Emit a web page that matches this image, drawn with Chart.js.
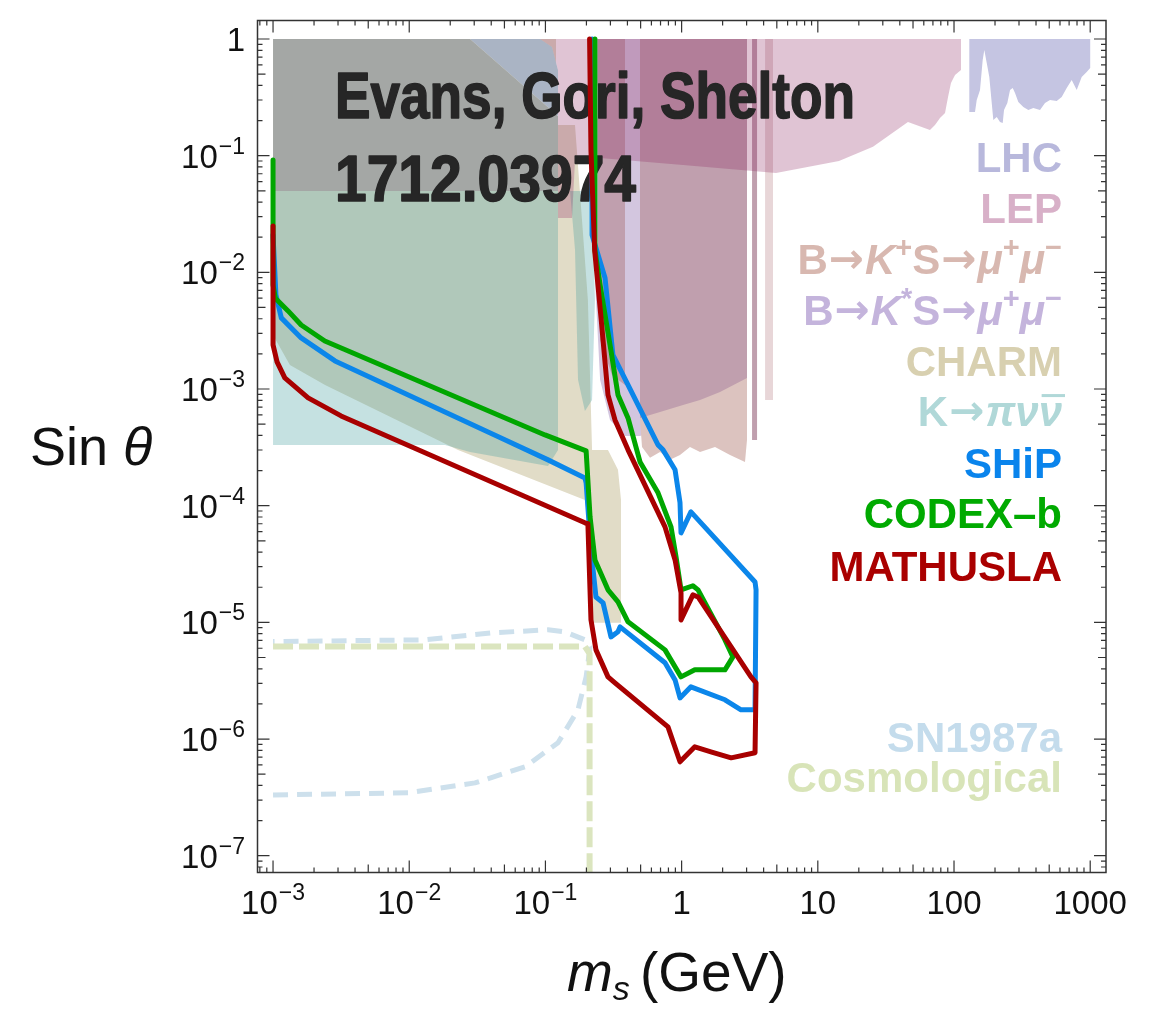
<!DOCTYPE html>
<html>
<head>
<meta charset="utf-8">
<script src="https://cdn.jsdelivr.net/npm/chart.js@4.4.1/dist/chart.umd.min.js"></script>
<style>
  body { margin: 0; background: #fff; }
  canvas { display: block; }
</style>
</head>
<body>
<canvas id="limits" width="1162" height="1015"></canvas>
<script>
// ---- projected reach (x = m_s in GeV, y = sin theta) ----
const mathuslaX = [0.001, 0.001, 0.00107, 0.00122, 0.00181, 0.00316, 0.195, 0.205, 0.216, 0.235, 0.288, 0.324, 0.794, 0.973, 1.25, 1.64, 2.31, 3.46, 3.52, 3.23, 1.32, 1.21, 0.99, 0.99, 0.895, 0.755, 0.404, 0.324, 0.288, 0.256, 0.230, 0.216, 0.211];
const mathuslaY = [0.025, 2.39e-3, 1.71e-3, 1.245e-3, 8.39e-4, 5.88e-4, 7.13e-5, 7.0e-5, 1.05e-5, 5.81e-6, 3.41e-6, 3.03e-6, 1.27e-6, 6.38e-7, 8.57e-7, 7.77e-7, 6.9e-7, 7.62e-7, 3.03e-6, 3.41e-6, 1.65e-5, 1.72e-5, 1.05e-5, 1.79e-5, 3.43e-5, 6.58e-5, 3.01e-4, 5.43e-4, 8.9e-4, 4.07e-3, 0.0153, 0.11, 1];

const codexX = [0.001, 0.001, 0.00104, 0.00129, 0.00161, 0.0024, 0.0993, 0.199, 0.2126, 0.231, 0.288, 0.341, 0.404, 0.755, 0.99, 1.25, 2.08, 2.38, 2.08, 1.32, 1.21, 0.99, 0.91, 0.836, 0.671, 0.495, 0.404, 0.341, 0.303, 0.252, 0.231, 0.231];
const codexY = [0.092, 7.8e-3, 6.0e-3, 4.67e-3, 3.54e-3, 2.58e-3, 4.04e-4, 2.95e-4, 8.02e-5, 3.43e-5, 1.9e-5, 1.5e-5, 1.01e-5, 5.81e-6, 3.41e-6, 3.92e-6, 3.92e-6, 5.06e-6, 7.08e-6, 1.9e-5, 2.06e-5, 1.9e-5, 3.64e-5, 6.58e-5, 1.29e-4, 2.37e-4, 5.65e-4, 8.9e-4, 2.12e-3, 7.8e-3, 0.0155, 1];

const shipX = [0.001, 0.00105, 0.00115, 0.00161, 0.00285, 0.0472, 0.1045, 0.195, 0.199, 0.216, 0.235, 0.265, 0.303, 0.341, 0.353, 0.755, 0.895, 0.973, 1.17, 2.08, 2.73, 3.46, 3.52, 3.46, 1.17, 0.99, 0.973, 0.895, 0.730, 0.671, 0.425, 0.313, 0.274, 0.220, 0.220];
const shipY = [0.0209, 6.4e-3, 4.07e-3, 2.74e-3, 1.74e-3, 3.81e-4, 2.47e-4, 1.73e-4, 1.57e-4, 4.18e-5, 1.65e-5, 1.47e-5, 7.51e-6, 8.3e-6, 9.15e-6, 4.5e-6, 3.21e-6, 2.25e-6, 2.8e-6, 2.17e-6, 1.78e-6, 1.78e-6, 1.9e-5, 2.22e-5, 8.85e-5, 5.85e-5, 1.06e-4, 2.03e-4, 3.01e-4, 3.32e-4, 9.63e-4, 1.96e-3, 8.95e-3, 0.0209, 1];

// astrophysical / cosmological bounds (dashed)
const snX = [0.001, 0.0098, 0.0304, 0.0708, 0.1237, 0.1734, 0.199, 0.2126, 0.195, 0.139, 0.1045, 0.0399, 0.0131, 0.001];
const snY = [3.32e-7, 3.46e-7, 4.21e-7, 5.78e-7, 9.28e-7, 1.78e-6, 3.41e-6, 6.17e-6, 7.08e-6, 8.3e-6, 8.63e-6, 8.13e-6, 7.08e-6, 6.85e-6];
const cosmoX = [0.001, 0.195, 0.211, 0.211];
const cosmoY = [6.2e-6, 6.2e-6, 5.4e-6, 5e-8];

// ---- excluded regions (polygon vertices) ----
const charmX = [0.001, 0.1196, 0.1196, 0.1649, 0.205, 0.220, 0.288, 0.341, 0.359, 0.359, 0.220, 0.205, 0.195, 0.02282, 0.00241, 0.00133, 0.001];
const charmY = [1, 1, 0.183, 0.183, 5.8e-3, 3.0e-4, 3.0e-4, 2.03e-4, 1.12e-4, 9.9e-6, 9.9e-6, 7.55e-5, 1.12e-4, 3.0e-4, 1.08e-3, 1.61e-3, 2.91e-3];
const kpiX = [0.001, 0.1237, 0.1237, 0.1045, 0.02796, 0.01831, 0.001];
const kpiY = [0.0498, 0.0498, 3.0e-4, 2.19e-4, 2.89e-4, 3.32e-4, 3.32e-4];
const kpiPeakX = [0.1516, 0.220, 0.231, 0.220, 0.195, 0.1735, 0.1649];
const kpiPeakY = [0.0498, 0.0498, 5.8e-3, 8.06e-4, 6.49e-4, 1.2e-3, 0.0156];
const grayX = [0.001, 0.02796, 0.1237, 0.1237, 0.001];
const grayY = [1, 1, 0.219, 0.0498, 0.0498];
const slateX = [0.02796, 0.0913, 0.1118, 0.1237, 0.1237];
const slateY = [1, 1, 0.854, 0.543, 0.219];
const bKstarX = [0.212, 3.02, 3.02, 1.024, 0.495, 0.384, 0.298, 0.252, 0.235, 0.220];
const bKstarY = [1, 1, 8.06e-4, 5.43e-4, 3.96e-4, 3.96e-4, 5.43e-4, 1.2e-3, 5.8e-3, 0.0417];
const bKplusX = [0.495, 3.02, 3.02, 2.92, 2.267, 1.759, 1.365, 1.152, 0.973, 0.822, 0.694, 0.586, 0.512, 0.495];
const bKplusY = [0.0919, 0.0919, 3.66e-4, 2.37e-4, 2.72e-4, 3.19e-4, 2.89e-4, 3.19e-4, 2.72e-4, 2.47e-4, 2.89e-4, 2.57e-4, 3.19e-4, 5.43e-4];
const bBoth1X = [0.2433, 0.384, 0.384, 0.308, 0.252, 0.2433];
const bBoth1Y = [1, 1, 1.08e-3, 1.32e-3, 2.63e-3, 0.0156];
const bBoth2X = [0.495, 3.02, 3.02, 1.914, 1.365, 1.024, 0.694, 0.495];
const bBoth2Y = [1, 1, 1.245e-3, 9.44e-4, 8.06e-4, 7.31e-4, 6.36e-4, 5.65e-4];
const bBoth3X = [3.29, 3.58, 3.58, 3.29];
const bBoth3Y = [1, 1, 3.66e-4, 3.66e-4];
const bTailX = [4.10, 4.69, 4.69, 4.10];
const bTailY = [1, 1, 8.06e-4, 8.06e-4];
const lepX = [0.0913, 112.5, 112.5, 101.7, 95.0, 90.4, 85.9, 78.9, 72.5, 66.6, 45.9, 25.4, 14.3, 4.93, 1.024, 0.252, 0.1649, 0.1568, 0.1237, 0.1237, 0.1118];
const lepY = [1, 1, 0.543, 0.491, 0.420, 0.318, 0.232, 0.210, 0.183, 0.166, 0.1945, 0.119, 0.0902, 0.0711, 0.0832, 0.0955, 0.0919, 0.0292, 0.0292, 0.543, 0.854];
const lhcX = [129.5, 129.5, 142.6, 146.8, 155.2, 162.4, 166.9, 173.9, 181.6, 189.2, 194.4, 205.9, 217.6, 227.8, 232.9, 246.3, 257.8, 269.8, 280.5, 296.6, 322.8, 351.3, 382.2, 428, 465.8, 506.8, 567.5, 617.6, 672.2, 731.4, 796, 866, 942.6, 1000, 1000];
const lhcY = [1, 0.2368, 0.2368, 0.3001, 0.3656, 0.661, 0.805, 0.623, 0.4724, 0.2828, 0.2022, 0.2146, 0.1945, 0.1906, 0.2464, 0.2828, 0.3656, 0.3804, 0.3446, 0.288, 0.2615, 0.2464, 0.2563, 0.2464, 0.2828, 0.3001, 0.294, 0.3184, 0.3804, 0.4453, 0.3656, 0.4724, 0.5216, 0.564, 1];

// ---- axes ----
const xRange = [7.69e-4, 1306];
const yRange = [7.18e-8, 1.44];
const xTickValues = [0.001, 0.01, 0.1, 1, 10, 100, 1000];
const xTickLabels = [['10', '−3'], ['10', '−2'], ['10', '−1'], ['1', ''], ['10', ''], ['100', ''], ['1000', '']];
const yTickValues = [1, 0.1, 0.01, 1e-3, 1e-4, 1e-5, 1e-6, 1e-7];
const yTickLabels = [['1', ''], ['10', '−1'], ['10', '−2'], ['10', '−3'], ['10', '−4'], ['10', '−5'], ['10', '−6'], ['10', '−7']];

const FONT = '"Liberation Sans", Arial, Helvetica, sans-serif';

function pts(xs, ys) {
  return xs.map((x, i) => ({ x: x, y: ys[i] }));
}
function curve(label, xs, ys, color, width, dash) {
  return {
    label: label, data: pts(xs, ys), borderColor: color, borderWidth: width,
    borderDash: dash || [], fill: false, pointRadius: 0, tension: 0,
    borderJoinStyle: 'round', borderCapStyle: dash ? 'butt' : 'round'
  };
}
function region(label, xs, ys, color) {
  return {
    label: label, data: pts(xs, ys), fill: 'shape', backgroundColor: color,
    borderColor: 'rgba(0,0,0,0)', borderWidth: 0, pointRadius: 0, tension: 0
  };
}

// first dataset is drawn on top
const datasets = [
  curve('MATHUSLA', mathuslaX, mathuslaY, '#a80000', 5),
  curve('CODEX-b', codexX, codexY, '#00a600', 5),
  curve('SHiP', shipX, shipY, '#0b86ea', 5),
  curve('Cosmological', cosmoX, cosmoY, '#dbe5bf', 6, [20, 6]),
  curve('SN1987a', snX, snY, '#cde0ec', 5, [15, 9]),
  region('LHC', lhcX, lhcY, '#c5c5e2'),
  region('LEP', lepX, lepY, 'rgba(141,37,96,0.27)'),
  region('B tail', bTailX, bTailY, '#e8d6d8'),
  region('B both 3', bBoth3X, bBoth3Y, '#c09fae'),
  region('B both 2', bBoth2X, bBoth2Y, '#c09fae'),
  region('B both 1', bBoth1X, bBoth1Y, '#c09fae'),
  region('B->K+S', bKplusX, bKplusY, '#dcc3bf'),
  region('B->K*S', bKstarX, bKstarY, '#d3c6df'),
  region('slate', slateX, slateY, '#aab4c4'),
  region('gray', grayX, grayY, '#a4a7a5'),
  region('K->pi nu nu peak', kpiPeakX, kpiPeakY, 'rgba(62,155,155,0.3)'),
  region('K->pi nu nu', kpiX, kpiY, 'rgba(62,155,155,0.3)'),
  region('CHARM', charmX, charmY, '#e1dcc7')
];
const lineCount = 5;

function drawPower(ctx, base, exp, x, y, align) {
  ctx.font = '33px ' + FONT;
  const wb = ctx.measureText(base).width;
  ctx.font = '23px ' + FONT;
  const we = exp ? ctx.measureText(exp).width + 1 : 0;
  const left = align === 'right' ? x - wb - we : x - (wb + we) / 2;
  ctx.font = '33px ' + FONT;
  ctx.fillText(base, left, y);
  if (exp) {
    ctx.font = '23px ' + FONT;
    ctx.fillText(exp, left + wb + 1, y - 14);
  }
}

function fontOf(p, size) {
  if (p.arrow) return 'bold ' + Math.round(size * 1.0) + 'px "DejaVu Sans", ' + FONT;
  const s = p.sup ? Math.round(size * 0.7) : size;
  return (p.it ? 'italic ' : '') + 'bold ' + s + 'px ' + FONT;
}
function richRight(ctx, parts, right, base, size, color) {
  let w = 0;
  parts.forEach(p => {
    ctx.font = fontOf(p, size);
    p.w = ctx.measureText(p.t).width + (p.arrow ? 2 : 0);
    w += p.w;
  });
  let x = right - w;
  ctx.fillStyle = color;
  parts.forEach(p => {
    ctx.font = fontOf(p, size);
    const dy = p.sup ? size * 0.4 : (p.arrow ? 1 : 0);
    ctx.fillText(p.t, x + (p.arrow ? 1 : 0), base - dy);
    if (p.over) ctx.fillRect(x + 3, base - size * 0.76, p.w, 3);
    x += p.w;
  });
}

const legendRows = [
  { parts: [{ t: 'LHC' }], color: '#b8b8dc', base: 172 },
  { parts: [{ t: 'LEP' }], color: '#d8b0c8', base: 223 },
  { parts: [{ t: 'B' }, { t: '→', arrow: true }, { t: 'K', it: true }, { t: '+', sup: true }, { t: 'S' }, { t: '→', arrow: true }, { t: 'μ', it: true }, { t: '+', sup: true }, { t: 'μ', it: true }, { t: '−', sup: true }], color: '#d8b8b0', base: 274 },
  { parts: [{ t: 'B' }, { t: '→', arrow: true }, { t: 'K', it: true }, { t: '*', sup: true }, { t: 'S' }, { t: '→', arrow: true }, { t: 'μ', it: true }, { t: '+', sup: true }, { t: 'μ', it: true }, { t: '−', sup: true }], color: '#c4b4dc', base: 325 },
  { parts: [{ t: 'CHARM' }], color: '#d8d0b0', base: 376 },
  { parts: [{ t: 'K' }, { t: '→', arrow: true }, { t: 'πν', it: true }, { t: 'ν', it: true, over: true }], color: '#b0d8d8', base: 426 },
  { parts: [{ t: 'SHiP' }], color: '#0a84ec', base: 478 },
  { parts: [{ t: 'CODEX–b' }], color: '#00aa00', base: 528 },
  { parts: [{ t: 'MATHUSLA' }], color: '#aa0000', base: 581 },
  { parts: [{ t: 'SN1987a' }], color: '#c4dcec', base: 752 },
  { parts: [{ t: 'Cosmological' }], color: '#d8e4b8', base: 792 }
];

const titleLines = ['Evans, Gori, Shelton', '1712.03974'];
const titleBase = [118, 201];
const titleWidth = [520, 301];

function drawTitle(ctx) {
  ctx.save();
  ctx.fillStyle = '#262626';
  ctx.strokeStyle = '#262626';
  ctx.lineWidth = 1.6;
  ctx.lineJoin = 'round';
  ctx.textBaseline = 'alphabetic';
  titleLines.forEach((t, i) => {
    ctx.font = 'bold 65px "Liberation Sans Narrow", ' + FONT;
    const w = ctx.measureText(t).width;
    ctx.save();
    ctx.translate(335, titleBase[i]);
    ctx.scale(titleWidth[i] / w, 1);
    ctx.fillText(t, 0, 0);
    ctx.strokeText(t, 0, 0);
    ctx.restore();
  });
  ctx.restore();
}

const decorations = {
  id: 'decorations',
  afterDatasetDraw(chart, args) {
    if (args.index === lineCount) drawTitle(chart.ctx);
  },
  afterDraw(chart) {
    const ctx = chart.ctx, a = chart.chartArea;
    const xs = chart.scales.x, ys = chart.scales.y;
    ctx.save();
    // frame
    ctx.strokeStyle = '#333';
    ctx.lineWidth = 1.5;
    ctx.strokeRect(a.left, a.top, a.right - a.left, a.bottom - a.top);
    // inside ticks on all four sides
    ctx.lineWidth = 1.2;
    ctx.beginPath();
    for (let e = -8; e <= 3; e++) {
      for (let m = 1; m <= 9; m++) {
        const v = m * Math.pow(10, e);
        const len = m === 1 ? 12 : (m === 5 ? 8 : 5);
        if (v >= xs.min && v <= xs.max) {
          const px = xs.getPixelForValue(v);
          ctx.moveTo(px, a.bottom); ctx.lineTo(px, a.bottom - len);
          ctx.moveTo(px, a.top); ctx.lineTo(px, a.top + len);
        }
        if (v >= ys.min && v <= ys.max) {
          const py = ys.getPixelForValue(v);
          ctx.moveTo(a.left, py); ctx.lineTo(a.left + len, py);
          ctx.moveTo(a.right, py); ctx.lineTo(a.right - len, py);
        }
      }
    }
    ctx.stroke();
    // tick labels
    ctx.fillStyle = '#111';
    ctx.textAlign = 'left';
    ctx.textBaseline = 'alphabetic';
    xTickValues.forEach((v, i) => {
      drawPower(ctx, xTickLabels[i][0], xTickLabels[i][1], xs.getPixelForValue(v), 914, 'center');
    });
    yTickValues.forEach((v, i) => {
      drawPower(ctx, yTickLabels[i][0], yTickLabels[i][1], 245, ys.getPixelForValue(v) + 12, 'right');
    });
    // axis titles
    ctx.font = '54px ' + FONT;
    ctx.fillText('Sin ', 30, 465);
    const sw = ctx.measureText('Sin ').width;
    ctx.font = 'italic 54px ' + FONT;
    ctx.fillText('θ', 30 + sw, 465);
    ctx.font = 'italic 55px ' + FONT;
    ctx.fillText('m', 567, 991);
    const mw = ctx.measureText('m').width;
    ctx.font = 'italic 34px ' + FONT;
    ctx.fillText('s', 567 + mw, 1000);
    ctx.font = '55px ' + FONT;
    ctx.fillText('(GeV)', 640, 991);
    // labels of the regions and curves
    legendRows.forEach(r => richRight(ctx, r.parts, 1062, r.base, 42, r.color));
    ctx.restore();
  }
};

new Chart(document.getElementById('limits').getContext('2d'), {
  type: 'line',
  data: { datasets: datasets },
  options: {
    responsive: false,
    animation: false,
    devicePixelRatio: 1,
    layout: { padding: { left: 257.5, right: 56, top: 20.5, bottom: 142.5 } },
    plugins: { legend: { display: false }, tooltip: { enabled: false } },
    scales: {
      x: { type: 'logarithmic', min: xRange[0], max: xRange[1], display: false },
      y: { type: 'logarithmic', min: yRange[0], max: yRange[1], display: false }
    }
  },
  plugins: [decorations]
});
</script>
</body>
</html>
